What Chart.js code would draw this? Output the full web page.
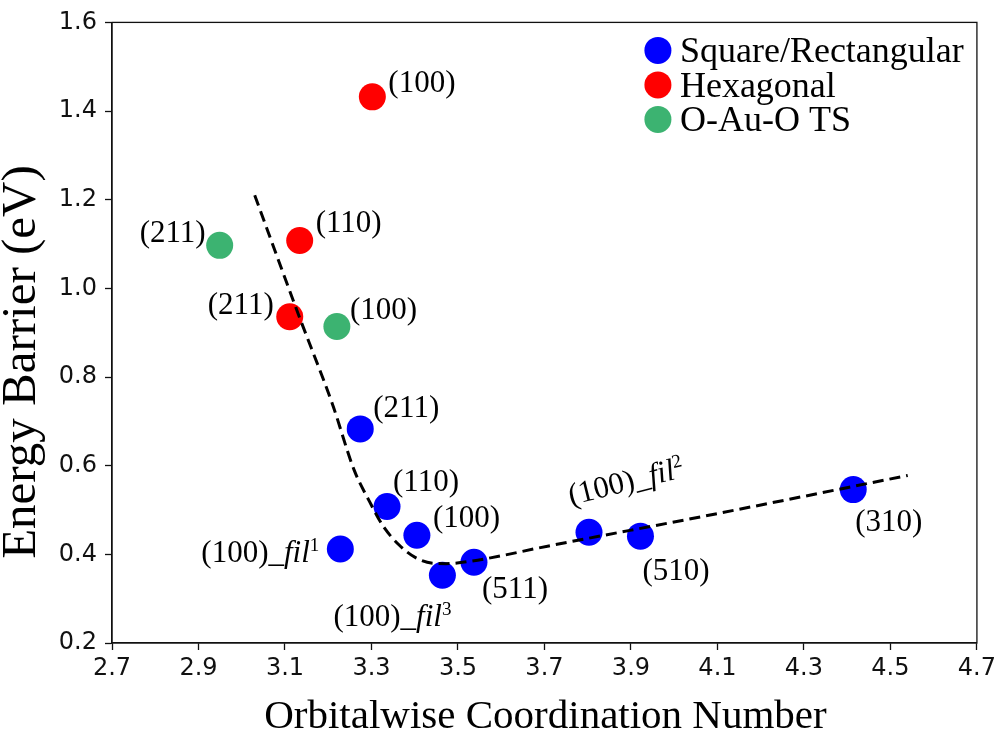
<!DOCTYPE html>
<html>
<head>
<meta charset="utf-8">
<title>Energy Barrier vs Orbitalwise Coordination Number</title>
<script src="https://cdn.jsdelivr.net/npm/chart.js@4.4.1/dist/chart.umd.min.js"></script>
<style>
  html, body { margin: 0; padding: 0; background: #fff; }
  #chart { display: block; }
</style>
</head>
<body>
<canvas id="chart" width="1000" height="732"></canvas>
<script>
// values
const squareX = [3.274, 3.336, 3.405, 3.228, 3.464, 3.537, 3.803, 3.922, 4.414];
const squareY = [0.683, 0.508, 0.443, 0.412, 0.353, 0.382, 0.450, 0.441, 0.546];
const squareNames = ['(211)', '(110)', '(100)', '(100)_fil1', '(100)_fil3', '(511)', '(100)_fil2', '(510)', '(310)'];

const hexX = [3.302, 3.134, 3.111];
const hexY = [1.432, 1.108, 0.936];
const hexNames = ['(100)', '(110)', '(211)'];

const tsX = [2.949, 3.220];
const tsY = [1.097, 0.914];
const tsNames = ['(211)', '(100)'];

// dashed guide curve, sampled along the drawn line
const fitX = [3.03, 3.13, 3.21, 3.26, 3.295, 3.326, 3.364, 3.403, 3.441, 3.472, 3.533, 3.71, 4.10, 4.54];
const fitY = [1.21, 0.944, 0.738, 0.590, 0.520, 0.465, 0.421, 0.392, 0.380, 0.379, 0.385, 0.419, 0.492, 0.578];

const xTicks = [2.7, 2.9, 3.1, 3.3, 3.5, 3.7, 3.9, 4.1, 4.3, 4.5, 4.7];
const yTicks = [0.2, 0.4, 0.6, 0.8, 1.0, 1.2, 1.4, 1.6];

const seriesNames = ['Square/Rectangular', 'Hexagonal', 'O-Au-O TS'];
const seriesColors = ['#0000ff', '#ff0000', '#3cb371'];

// label placement in pixels from the marker: [dx, dy, align, rotation deg]
const squareLabelPos = [
  [13, -12, 'left', 0], [6, -15, 'left', 0], [16, -8, 'left', 0],
  [-21, 13, 'right', 0], [-50, 51, 'center', 0], [8, 36, 'left', 0],
  [-18, -27, 'left', -14], [2, 44, 'left', 0], [2, 41, 'left', 0]
];
const hexLabelPos = [[16, -5, 'left', 0], [16, -8, 'left', 0], [-16, -3, 'right', 0]];
const tsLabelPos = [[-14, -3, 'right', 0], [13, -7, 'left', 0]];

const SERIF = '"Liberation Serif", "Times New Roman", serif';

const toPoints = (xs, ys) => xs.map((x, i) => ({ x: x, y: ys[i] }));

// split "(100)_fil2" into normal / italic / superscript runs
function labelRuns(name) {
  const m = name.match(/^(.*_)(fil)(\d)$/);
  if (!m) return [{ t: name, font: '31px ' + SERIF, rise: 0 }];
  return [
    { t: m[1], font: '31px ' + SERIF, rise: 0 },
    { t: m[2], font: 'italic 31px ' + SERIF, rise: 0 },
    { t: m[3], font: '19px ' + SERIF, rise: 11 }
  ];
}

const decorations = {
  id: 'decorations',
  afterDatasetsDraw(chart) {
    const ctx = chart.ctx;
    const xs = chart.scales.x;
    const ys = chart.scales.y;

    // point labels
    const groups = [
      [squareX, squareY, squareNames, squareLabelPos],
      [hexX, hexY, hexNames, hexLabelPos],
      [tsX, tsY, tsNames, tsLabelPos]
    ];
    ctx.save();
    ctx.fillStyle = '#000';
    ctx.textBaseline = 'alphabetic';
    ctx.textAlign = 'left';
    groups.forEach(([gx, gy, names, pos]) => {
      names.forEach((name, i) => {
        const px = xs.getPixelForValue(gx[i]);
        const py = ys.getPixelForValue(gy[i]);
        const [dx, dy, align, rot] = pos[i];
        const runs = labelRuns(name);
        let w = 0;
        runs.forEach(r => { ctx.font = r.font; r.w = ctx.measureText(r.t).width; w += r.w; });
        let start = 0;
        if (align === 'right') start = -w;
        if (align === 'center') start = -w / 2;
        ctx.save();
        ctx.translate(px + dx, py + dy);
        ctx.rotate(rot * Math.PI / 180);
        let cx = start;
        runs.forEach(r => {
          ctx.font = r.font;
          ctx.fillText(r.t, cx, -r.rise);
          cx += r.w;
        });
        ctx.restore();
      });
    });
    ctx.restore();
  },
  afterDraw(chart) {
    const ctx = chart.ctx;
    const area = chart.chartArea;
    ctx.save();
    // box round the plot
    ctx.strokeStyle = '#111';
    ctx.lineWidth = 1.3;
    ctx.strokeRect(area.left, area.top, area.right - area.left, area.bottom - area.top);

    // legend
    ctx.textAlign = 'left';
    ctx.textBaseline = 'alphabetic';
    ctx.font = '36px ' + SERIF;
    seriesNames.forEach((name, i) => {
      const cy = area.top + 28 + i * 34.5;
      ctx.fillStyle = seriesColors[i];
      ctx.beginPath();
      ctx.arc(area.right - 319, cy, 13.5, 0, Math.PI * 2);
      ctx.fill();
      ctx.fillStyle = '#000';
      ctx.fillText(name, area.right - 297, cy + 12);
    });

    // axis titles
    ctx.fillStyle = '#000';
    ctx.textAlign = 'center';
    ctx.font = '41px ' + SERIF;
    ctx.fillText('Orbitalwise Coordination Number', (area.left + area.right) / 2 + 1, 728);
    ctx.save();
    ctx.translate(35, 362);
    ctx.rotate(-Math.PI / 2);
    ctx.font = '49px ' + SERIF;
    ctx.fillText('Energy Barrier (eV)', 0, 0);
    ctx.restore();
    ctx.restore();
  }
};

const tickFont = { family: '"DejaVu Sans", sans-serif', size: 24 };

new Chart(document.getElementById('chart'), {
  type: 'scatter',
  data: {
    datasets: [
      {
        type: 'line',
        label: 'fit',
        data: toPoints(fitX, fitY),
        borderColor: '#000',
        borderWidth: 3,
        borderDash: [11, 6],
        pointRadius: 0,
        fill: false,
        cubicInterpolationMode: 'monotone',
        order: 0
      },
      {
        label: seriesNames[0],
        data: toPoints(squareX, squareY),
        backgroundColor: seriesColors[0],
        borderWidth: 0,
        pointRadius: 13.5,
        order: 1
      },
      {
        label: seriesNames[1],
        data: toPoints(hexX, hexY),
        backgroundColor: seriesColors[1],
        borderWidth: 0,
        pointRadius: 13.5,
        order: 1
      },
      {
        label: seriesNames[2],
        data: toPoints(tsX, tsY),
        backgroundColor: seriesColors[2],
        borderWidth: 0,
        pointRadius: 13.5,
        order: 1
      }
    ]
  },
  options: {
    responsive: false,
    animation: false,
    layout: { padding: { top: 11, right: 21, left: 0, bottom: 0 } },
    plugins: {
      legend: { display: false },
      tooltip: { enabled: false }
    },
    scales: {
      x: {
        type: 'linear',
        min: 2.7,
        max: 4.7,
        afterBuildTicks: scale => { scale.ticks = xTicks.map(v => ({ value: v })); },
        afterFit: scale => { scale.height = 89; },
        ticks: {
          font: tickFont,
          color: '#111',
          padding: 4,
          maxRotation: 0,
          callback: v => v.toFixed(1)
        },
        grid: { drawOnChartArea: false, tickLength: 7, tickColor: '#111', tickWidth: 1.3 },
        border: { color: '#111', width: 1.3 }
      },
      y: {
        type: 'linear',
        min: 0.2,
        max: 1.6,
        afterBuildTicks: scale => { scale.ticks = yTicks.map(v => ({ value: v })); },
        afterFit: scale => { scale.width = 112; },
        ticks: {
          font: tickFont,
          color: '#111',
          padding: 8,
          callback: v => v.toFixed(1)
        },
        grid: { drawOnChartArea: false, tickLength: 7, tickColor: '#111', tickWidth: 1.3 },
        border: { color: '#111', width: 1.3 }
      }
    }
  },
  plugins: [decorations]
});
</script>
</body>
</html>
